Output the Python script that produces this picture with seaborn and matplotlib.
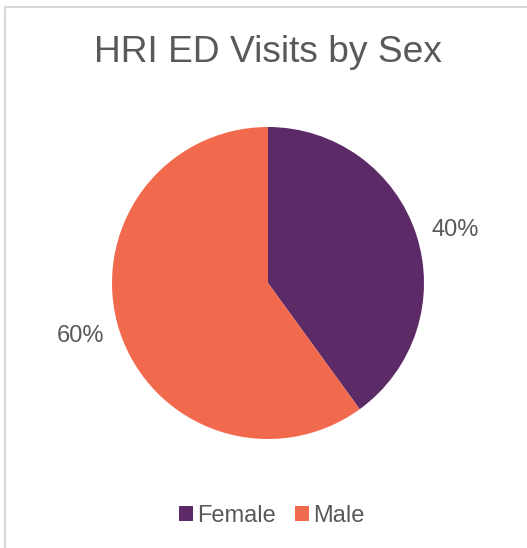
import matplotlib
matplotlib.use("Agg")
import numpy as np
import matplotlib.pyplot as plt
from matplotlib.patches import Patch
from matplotlib.lines import Line2D
import seaborn as sns

# Data
categories = ["Female", "Male"]
shares = [40, 60]
colors = ["#5C2A67", "#F26A4D"]

sns.set_theme(style="white")
plt.rcParams["font.family"] = ["Liberation Sans", "DejaVu Sans"]

text_color = "#595959"
W, H = 527, 548
fig = plt.figure(figsize=(W / 100, H / 100), dpi=100)
fig.patch.set_facecolor("white")

# Chart frame (top and left edges)
fig.add_artist(Line2D([5 / W, 1.0], [1 - 7 / H, 1 - 7 / H], color="#D9D9D9", lw=1.5,
                      transform=fig.transFigure))
fig.add_artist(Line2D([5 / W, 5 / W], [0.0, 1 - 7 / H], color="#D9D9D9", lw=1.5,
                      transform=fig.transFigure))

cx, cy, r = 268, 283, 156
ax = fig.add_axes([(cx - r) / W, 1 - (cy + r) / H, 2 * r / W, 2 * r / H])
wedges, _, autotexts = ax.pie(
    shares,
    colors=colors,
    startangle=90,
    counterclock=False,
    autopct=lambda p: f"{p:.0f}%",
    pctdistance=1.25,
    radius=1.0,
    wedgeprops=dict(linewidth=0),
    textprops=dict(color=text_color, fontsize=17),
)
# Place the percentage labels outside each wedge along its mid-angle
for w, t in zip(wedges, autotexts):
    theta = np.deg2rad((w.theta1 + w.theta2) / 2)
    t.set_position((1.265 * np.cos(theta), 1.10 * np.sin(theta)))

ax.set_xlim(-1, 1)
ax.set_ylim(-1, 1)
ax.set_aspect("equal")
ax.axis("off")

fig.text(268 / W, 1 - 62 / H, "HRI ED Visits by Sex", ha="center", va="baseline",
         fontsize=26.7, color=text_color)

handles = [Patch(facecolor=c, edgecolor="none", label=l) for c, l in zip(colors, categories)]
fig.legend(handles=handles, loc="center", bbox_to_anchor=(272 / W, 1 - 516 / H),
           ncol=2, frameon=False, fontsize=17, labelcolor=text_color,
           handlelength=0.6, handleheight=0.6, handletextpad=0.17, columnspacing=0.8,
           borderaxespad=0, borderpad=0)

fig.savefig("out.png", dpi=100, facecolor="white")
